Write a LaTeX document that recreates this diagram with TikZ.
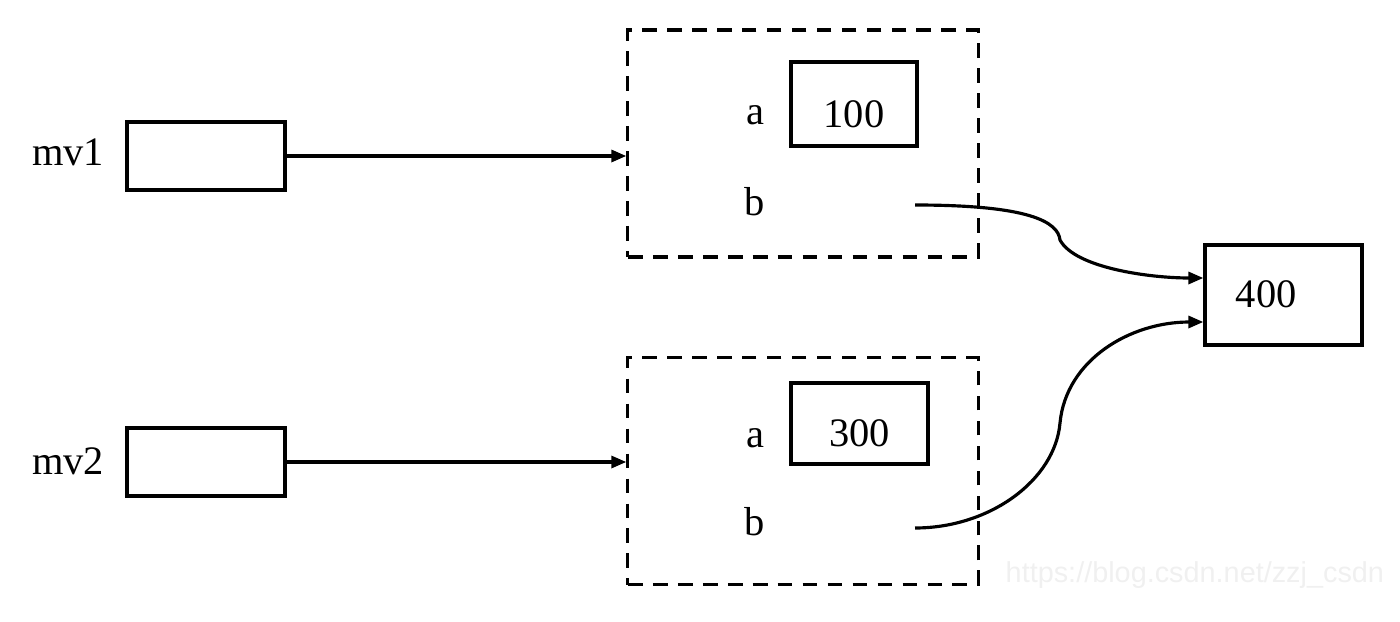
\documentclass[tikz,border=0pt]{standalone}
\usepackage{fontspec}
\setmainfont{Liberation Serif}
\usepackage{tikz}
\usetikzlibrary{positioning,arrows.meta}

\begin{document}
\begin{tikzpicture}[
        x=0.01cm, y=-0.01cm,
        font=\fontsize{11.5pt}{13pt}\selectfont,
        txt/.style={anchor=base, inner sep=0pt},
        ref/.style={rectangle, draw, line width=0.9pt, minimum width=1.58cm, minimum height=0.68cm},
        obj/.style={rectangle, draw, dashed, line width=0.9pt, dash pattern=on 4.2pt off 2.9pt, minimum width=3.5cm, minimum height=2.27cm},
        val/.style={rectangle, draw, line width=0.9pt, text height=0.46cm, text depth=0pt},
        link/.style={-{Triangle[length=0.15cm, width=0.12cm]}, line width=0.9pt},
        >=Stealth
      ]
      \useasboundingbox (0,0) rectangle (1400,621);

      % Reference variables
      \node[ref] (mv1_box) at (206,156) {};
      \node[txt] (mv1) at (68,165) {mv1};
      \node[ref] (mv2_box) at (206,462) {};
      \node[txt] (mv2) at (68,474) {mv2};

      % Objects
      \node[obj] (obj1) at (803,143.5) {};
      \node[obj] (obj2) at (803,471) {};

      % Fields of object 1
      \node[txt] (a1) at (755,124) {a};
      \node[val, minimum width=1.26cm, minimum height=0.84cm] (val1) at (854,104) {100};
      \node[txt] (b1) at (755,215) {b};
      \coordinate (b1_out) at (915,205);

      % Fields of object 2
      \node[txt] (a2) at (755,447) {a};
      \node[val, minimum width=1.37cm, minimum height=0.81cm] (val2) at (859.5,423.5) {300};
      \node[txt] (b2) at (755,535) {b};
      \coordinate (b2_out) at (915,528);

      % Shared value
      \node[rectangle, draw, line width=0.9pt, minimum height=1.0cm, text height=0.24cm, text depth=0pt, text width=0.95cm, inner xsep=0.31cm, align=left] (shared) at (1283.5,295) {400};
      \coordinate (in1) at (shared.west |- 0,278);
      \coordinate (in2) at (shared.west |- 0,322);

      % Connections
      \draw[link] (mv1_box.east) -- (mv1_box.east -| obj1.west);
      \draw[link] (mv2_box.east) -- (mv2_box.east -| obj2.west);
      \draw[link] (b1_out) .. controls (1030,205) and (1058,222) .. (1060,240)
                  .. controls (1075,268) and (1150,278) .. (in1);
      \draw[link] (b2_out) .. controls (990,528) and (1055,480) .. (1060,423)
                  .. controls (1066,360) and (1130,322) .. (in2);

      % Watermark
      \node[font=\fontspec{Liberation Sans}\fontsize{8.2pt}{9pt}\selectfont, text=gray!12, anchor=west, inner sep=0pt] (mark) at (1005,575) {https://blog.csdn.net/zzj\_csdn};

    \end{tikzpicture}
\end{document}
